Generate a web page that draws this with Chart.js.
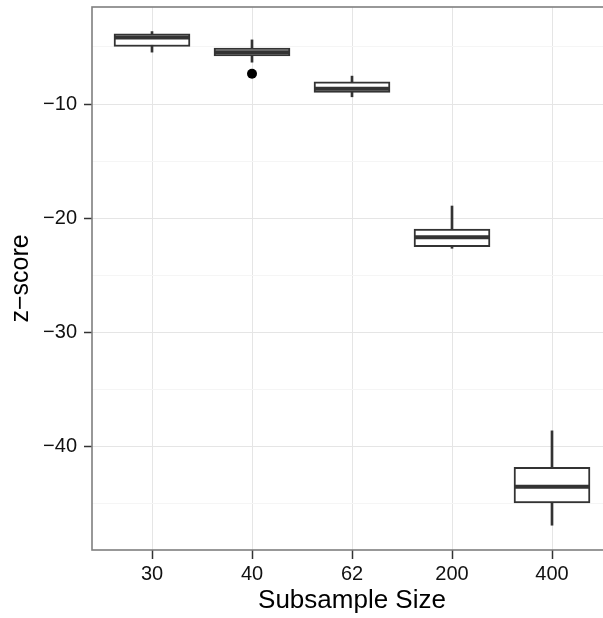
<!DOCTYPE html>
<html>
<head>
<meta charset="utf-8">
<script src="https://cdn.jsdelivr.net/npm/chart.js@4"></script>
<style>
html, body { margin: 0; padding: 0; background: #fff; overflow: hidden; }
canvas { display: block; }
</style>
</head>
<body>
<canvas id="zChart" width="617" height="618"></canvas>
<script>
// subsample sizes and the five-number summaries of the z-scores
const sizeLabels = ['30', '40', '62', '200', '400'];
const groupPos = [1, 2, 3, 4, 5];
const whiskerLow = [-5.45, -6.33, -9.36, -22.62, -46.86];
const boxLow = [-4.96, -5.78, -8.98, -22.48, -44.90];
const medians = [-4.16, -5.45, -8.65, -21.66, -43.50];
const boxHigh = [-3.85, -5.10, -8.05, -20.93, -41.80];
const whiskerHigh = [-3.65, -4.38, -7.55, -18.92, -38.60];
const outlierPos = [2];
const outlierVals = [-7.35];
const yTicks = [-45, -40, -35, -30, -25, -20, -15, -10, -5];
const yRange = [-49.03, -1.5];
const xRange = [0.4, 5.6];

const INK = '#333333';
const FONT = "'Liberation Sans', Arial, Helvetica, sans-serif";
const isMajor = v => v % 10 === 0;

// median bars on top of the boxes, then the panel frame
const boxExtras = {
    id: 'boxExtras',
    afterDatasetsDraw(chart) {
        const { ctx, chartArea, scales } = chart;
        const boxes = chart.getDatasetMeta(1).data;
        ctx.save();
        ctx.strokeStyle = INK;
        ctx.lineWidth = 4;
        medians.forEach((m, i) => {
            const bar = boxes[i];
            const y = scales.y.getPixelForValue(m);
            ctx.beginPath();
            ctx.moveTo(bar.x - bar.width / 2, y);
            ctx.lineTo(bar.x + bar.width / 2, y);
            ctx.stroke();
        });
        ctx.strokeStyle = '#7f7f7f';
        ctx.lineWidth = 1.6;
        ctx.strokeRect(chartArea.left, chartArea.top, chartArea.right - chartArea.left, chartArea.bottom - chartArea.top);
        ctx.restore();
    }
};

const whiskerData = groupPos.map((x, i) => ({ x, y: [whiskerLow[i], whiskerHigh[i]] }));
const boxData = groupPos.map((x, i) => ({ x, y: [boxLow[i], boxHigh[i]] }));
const outlierData = outlierPos.map((x, i) => ({ x, y: outlierVals[i] }));

new Chart(document.getElementById('zChart'), {
    type: 'bar',
    data: {
        datasets: [
            { type: 'scatter', data: outlierData, order: 1, pointRadius: 5, pointBackgroundColor: '#000', pointBorderWidth: 0 },
            { data: boxData, order: 2, backgroundColor: '#fff', borderColor: INK, borderWidth: 2, borderSkipped: false, barThickness: 76, grouped: false },
            { data: whiskerData, order: 3, backgroundColor: INK, borderWidth: 0, barThickness: 2, grouped: false }
        ]
    },
    options: {
        responsive: false,
        animation: false,
        layout: { padding: { top: 7, left: 0, right: 0, bottom: 0 } },
        plugins: { legend: { display: false }, tooltip: { enabled: false } },
        scales: {
            x: {
                type: 'linear',
                min: xRange[0],
                max: xRange[1],
                offset: false,
                afterBuildTicks: s => { s.ticks = groupPos.map(v => ({ value: v })); },
                afterFit: s => { s.height = 68; s.paddingLeft = 0; s.paddingRight = 0; },
                border: { display: false },
                grid: { offset: false, color: '#e5e5e5', lineWidth: 1, tickLength: 9, tickColor: INK, tickWidth: 1.5 },
                ticks: { autoSkip: false, maxRotation: 0, padding: 3, color: '#111', font: { family: FONT, size: 20 }, callback: v => sizeLabels[groupPos.indexOf(v)] },
                title: { display: true, text: 'Subsample Size', color: '#000', font: { family: FONT, size: 26 }, padding: { top: 0, bottom: 2 } }
            },
            y: {
                min: yRange[0],
                max: yRange[1],
                afterBuildTicks: s => { s.ticks = yTicks.map(v => ({ value: v })); },
                afterFit: s => { s.width = 92; s.paddingTop = 0; s.paddingBottom = 0; },
                border: { display: false },
                grid: {
                    color: c => isMajor(c.tick.value) ? '#e5e5e5' : '#f5f5f5',
                    lineWidth: 1,
                    tickLength: 8,
                    tickColor: c => isMajor(c.tick.value) ? INK : 'rgba(0,0,0,0)',
                    tickWidth: 1.5
                },
                ticks: { autoSkip: false, padding: 7, color: '#111', font: { family: FONT, size: 20 }, callback: v => isMajor(v) ? '\u2212' + Math.abs(v) : '' },
                title: { display: true, text: 'z\u2212score', color: '#000', font: { family: FONT, size: 25 }, padding: { top: 6, bottom: 0 } }
            }
        }
    },
    plugins: [boxExtras]
});
</script>
</body>
</html>
